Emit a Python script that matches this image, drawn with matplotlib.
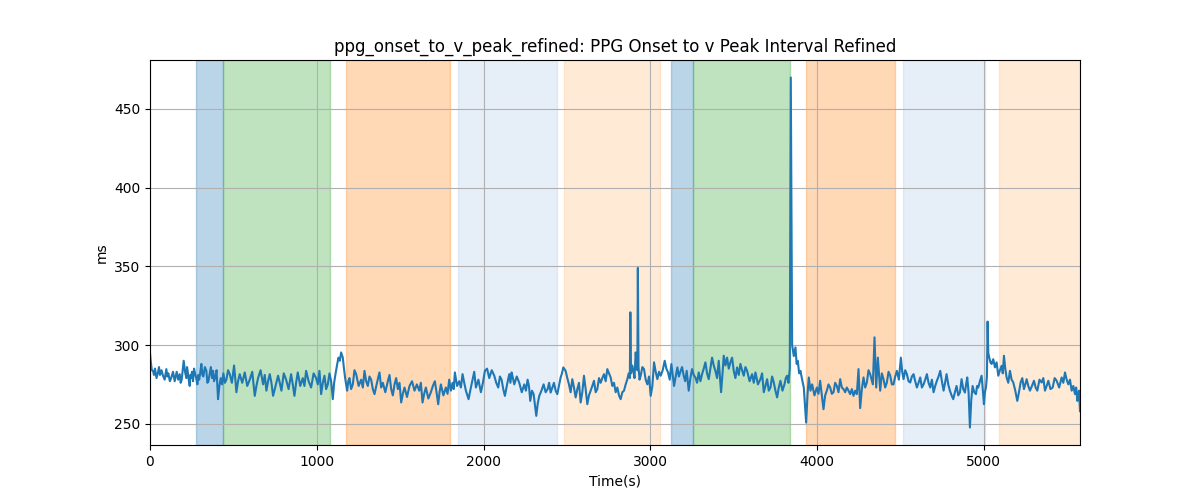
import matplotlib.pyplot as plt
import numpy as np

# interval trace (time in s, value in ms)
time_s = [0, 5, 11, 18, 24, 30, 39, 48, 54, 60, 69, 78,
          88, 98, 104, 110, 119, 128, 138, 148, 154, 160, 169, 178,
          184, 190, 196, 202, 210, 218, 222, 225, 231, 238, 242, 245,
          252, 258, 264, 270, 277, 284, 290, 295, 302, 308, 314, 320,
          329, 338, 344, 350, 358, 365, 372, 378, 384, 390, 399, 408,
          416, 424, 432, 440, 449, 458, 468, 478, 491, 504, 511, 518,
          528, 538, 553, 568, 583, 598, 613, 628, 638, 648, 663, 678,
          688, 698, 708, 718, 728, 738, 753, 768, 778, 788, 802, 816,
          831, 846, 856, 866, 876, 886, 901, 916, 926, 936, 951, 966,
          981, 996, 1006, 1016, 1026, 1036, 1046, 1056, 1066, 1076, 1086, 1096,
          1104, 1112, 1121, 1130, 1138, 1146, 1156, 1163, 1170, 1182, 1189, 1196,
          1206, 1216, 1226, 1236, 1251, 1266, 1276, 1286, 1296, 1306, 1316, 1326,
          1336, 1346, 1361, 1376, 1386, 1396, 1411, 1426, 1436, 1446, 1456, 1466,
          1476, 1486, 1496, 1506, 1516, 1526, 1541, 1556, 1571, 1586, 1600, 1614,
          1624, 1634, 1644, 1654, 1669, 1684, 1696, 1708, 1718, 1728, 1736, 1744,
          1759, 1774, 1784, 1794, 1804, 1814, 1821, 1828, 1841, 1854, 1864, 1874,
          1884, 1894, 1910, 1922, 1934, 1944, 1954, 1969, 1984, 1996, 2008, 2021,
          2034, 2049, 2064, 2076, 2088, 2098, 2108, 2118, 2128, 2141, 2154, 2161,
          2168, 2176, 2184, 2199, 2214, 2229, 2244, 2254, 2264, 2272, 2280, 2290,
          2300, 2308, 2316, 2325, 2334, 2347, 2360, 2372, 2384, 2393, 2402, 2412,
          2422, 2432, 2442, 2452, 2462, 2470, 2478, 2492, 2502, 2512, 2522, 2532,
          2542, 2552, 2562, 2572, 2582, 2592, 2602, 2612, 2622, 2632, 2642, 2652,
          2662, 2672, 2682, 2692, 2702, 2712, 2722, 2732, 2742, 2752, 2762, 2772,
          2782, 2792, 2802, 2812, 2822, 2832, 2842, 2852, 2862, 2870, 2877, 2880,
          2884, 2891, 2898, 2905, 2912, 2918, 2922, 2925, 2929, 2935, 2942, 2952,
          2962, 2972, 2982, 2992, 3002, 3012, 3022, 3032, 3042, 3052, 3062, 3074,
          3086, 3096, 3106, 3116, 3126, 3142, 3152, 3162, 3171, 3180, 3190, 3200,
          3209, 3218, 3230, 3240, 3250, 3260, 3270, 3280, 3290, 3300, 3310, 3320,
          3330, 3340, 3350, 3360, 3370, 3380, 3390, 3400, 3410, 3424, 3432, 3440,
          3450, 3460, 3470, 3480, 3490, 3500, 3510, 3520, 3530, 3540, 3550, 3560,
          3570, 3580, 3595, 3610, 3620, 3630, 3645, 3660, 3670, 3680, 3690, 3700,
          3710, 3720, 3730, 3740, 3750, 3760, 3770, 3780, 3792, 3804, 3812, 3820,
          3828, 3836, 3842, 3846, 3850, 3860, 3870, 3877, 3884, 3892, 3900, 3910,
          3920, 3934, 3942, 3950, 3960, 3970, 3984, 3998, 4008, 4018, 4038, 4048,
          4058, 4068, 4078, 4088, 4098, 4108, 4118, 4128, 4138, 4148, 4158, 4168,
          4178, 4188, 4198, 4208, 4218, 4228, 4238, 4248, 4258, 4268, 4278, 4288,
          4298, 4308, 4318, 4334, 4344, 4354, 4364, 4378, 4388, 4398, 4408, 4418,
          4428, 4438, 4448, 4458, 4468, 4478, 4490, 4502, 4510, 4518, 4528, 4538,
          4548, 4558, 4568, 4578, 4588, 4598, 4608, 4618, 4628, 4638, 4648, 4658,
          4668, 4678, 4688, 4698, 4708, 4718, 4728, 4738, 4748, 4758, 4767, 4776,
          4786, 4796, 4806, 4816, 4826, 4836, 4846, 4856, 4866, 4876, 4886, 4893,
          4900, 4908, 4916, 4924, 4932, 4942, 4952, 4959, 4966, 4976, 4986, 4993,
          5000, 5006, 5012, 5018, 5022, 5026, 5032, 5039, 5046, 5056, 5066, 5076,
          5086, 5096, 5106, 5113, 5120, 5128, 5136, 5146, 5156, 5166, 5176, 5188,
          5200, 5210, 5220, 5230, 5240, 5248, 5256, 5266, 5276, 5288, 5300, 5310,
          5320, 5333, 5346, 5356, 5366, 5376, 5386, 5399, 5412, 5424, 5436, 5451,
          5466, 5476, 5486, 5496, 5506, 5516, 5526, 5536, 5546, 5553, 5560, 5565,
          5570, 5576]
interval_ms = [295, 289, 284, 283.6, 281, 285, 279, 282.6, 286, 281, 284, 280.5,
               278, 284.7, 280, 282, 277, 279.4, 283, 277, 280, 283, 278, 281.5,
               276, 278, 284, 290, 283, 279, 286, 284, 279, 274, 281, 279,
               283, 277, 285, 282, 279, 275, 281, 278, 283, 288, 281, 280,
               286, 283.6, 276, 277, 282, 286, 279, 283.6, 277, 279, 284, 265.6,
               274, 279, 275, 282, 276, 278, 284, 281.5, 276, 287, 279, 270,
               277, 281.5, 276, 282.6, 274, 278, 283, 267.7, 274, 279, 284, 275,
               281, 271, 277, 281.5, 276, 267.7, 274, 280.5, 276, 271, 282, 278,
               272, 281.5, 275, 267.7, 276, 282.6, 274, 279, 274, 283.6, 277, 273,
               282, 279, 275, 283.6, 268.8, 276, 280.5, 272, 275, 282, 277, 265.6,
               276, 281.5, 287, 292, 290, 295.3, 292, 285, 279, 271, 277, 279,
               272, 275, 284, 281.5, 274, 278, 273, 283.6, 277, 274, 280, 278,
               272, 268.8, 276, 282.6, 273, 276, 270, 277, 281, 272, 268, 275,
               279, 272, 276, 263.5, 269, 273, 267, 274, 277, 271, 275, 271,
               276, 263.5, 269, 273, 266, 270, 274, 277, 270, 262.4, 270, 275,
               268, 273, 269, 278, 271, 276, 272, 282.6, 274, 277, 273, 281.5,
               276, 271, 265.6, 272, 278, 283, 273, 278, 270, 276, 283.6, 285,
               279, 284, 280.5, 276, 273, 280, 278, 272, 267.7, 275, 281.5, 276,
               282.6, 279, 275, 280, 276, 270, 275, 271, 278, 274, 264.5, 271,
               268.8, 262, 255, 263, 267.7, 271, 275, 270, 272, 276, 269.8, 273,
               276, 271, 268.8, 274, 279.4, 282, 285.8, 283.6, 279, 275, 270, 278.3,
               273, 266.7, 272, 276, 263.5, 270, 280.5, 272, 262.4, 268, 271, 274,
               277.3, 270, 272, 279, 276, 279, 281.5, 277, 284.7, 282, 279.4, 274,
               276, 270, 273, 268, 265.6, 270, 271, 275, 278.3, 282, 279, 320.8,
               282, 287, 283.6, 279, 295.3, 287, 284, 349, 286, 278, 280.5, 286,
               284.7, 278, 275, 280, 267.7, 274, 289, 283, 278.3, 283, 280.5, 284,
               290, 285, 282.6, 278, 287.9, 274, 280, 285.8, 280, 283, 286, 280.5,
               277, 283.6, 271, 279, 284.7, 281, 279.4, 276, 282.6, 277, 281.5, 285,
               289, 282, 278.3, 285, 292, 287, 283.6, 279, 290, 270, 281, 293.2,
               287, 292, 285, 289, 292, 283.6, 279, 285.8, 281, 288, 284, 280.5,
               286, 283.6, 277, 281.5, 276, 282.6, 275, 278.3, 282, 270, 274, 278.3,
               271, 273, 280, 276.2, 271, 266.7, 273, 277.3, 271, 275, 279, 280.5,
               276, 285, 470, 378, 300, 293, 298.5, 288, 290, 282, 283.6, 278,
               273, 250.7, 268, 279.4, 271, 275, 268, 273, 269, 277.3, 259.2, 268,
               271, 275, 273, 269, 270, 276, 274, 270, 278.3, 273, 272, 270,
               273, 271, 268.8, 272, 267.7, 271, 268.8, 284.7, 259.9, 272, 279.4, 273,
               276.2, 284, 281.5, 275, 304.9, 273, 292, 271, 282, 278.3, 273, 276.2,
               283, 280.5, 275, 275, 280, 283.6, 278, 292, 283, 278.3, 284, 281.5,
               277, 276.2, 280, 281.5, 277, 273, 276, 279.4, 273, 275, 278, 281.5,
               276, 273, 278, 270, 274, 277.3, 280, 283.6, 277, 271, 276, 281.5,
               275, 271, 268, 265.6, 270, 274, 268, 269.8, 278.3, 272, 269.8, 275,
               279.4, 270, 247.6, 265, 274, 270, 268.8, 274, 273, 277, 280.5, 272,
               262.4, 270, 273, 280, 314.9, 295, 292, 289, 288, 291, 285.8, 289,
               280.5, 284, 286.8, 282, 293.2, 285, 279.4, 276, 283.6, 278, 276.2, 271,
               264.5, 270, 276.2, 279, 272, 275, 278.3, 274, 271, 274, 277.3, 273,
               271, 278, 276.2, 279, 271, 274, 277.3, 272, 273, 279, 277.3, 273,
               279.4, 276, 282.6, 278, 275, 278, 271, 274, 268.8, 273, 264.5, 269,
               271, 258]

# shaded phases
span_start = [276, 438, 1176, 1848, 2484, 3126, 3258, 3936, 4512, 5088]
span_end = [438, 1080, 1800, 2442, 3060, 3258, 3840, 4464, 5004, 5576]
span_color = ['tab:blue', 'tab:green', 'tab:orange', '#aec7e8', '#ffbb78',
              'tab:blue', 'tab:green', 'tab:orange', '#aec7e8', '#ffbb78']

fig, ax = plt.subplots(figsize=(12, 5), dpi=100)

for s, e, c in zip(span_start, span_end, span_color):
    ax.axvspan(s, e, color=c, alpha=0.3)

ax.plot(time_s, interval_ms, color='tab:blue', linewidth=1.5)
ax.set_xlim(0, 5576)
ax.grid(True)
ax.set_title('ppg_onset_to_v_peak_refined: PPG Onset to v Peak Interval Refined')
ax.set_xlabel('Time(s)')
ax.set_ylabel('ms')

fig.savefig('out.png')
